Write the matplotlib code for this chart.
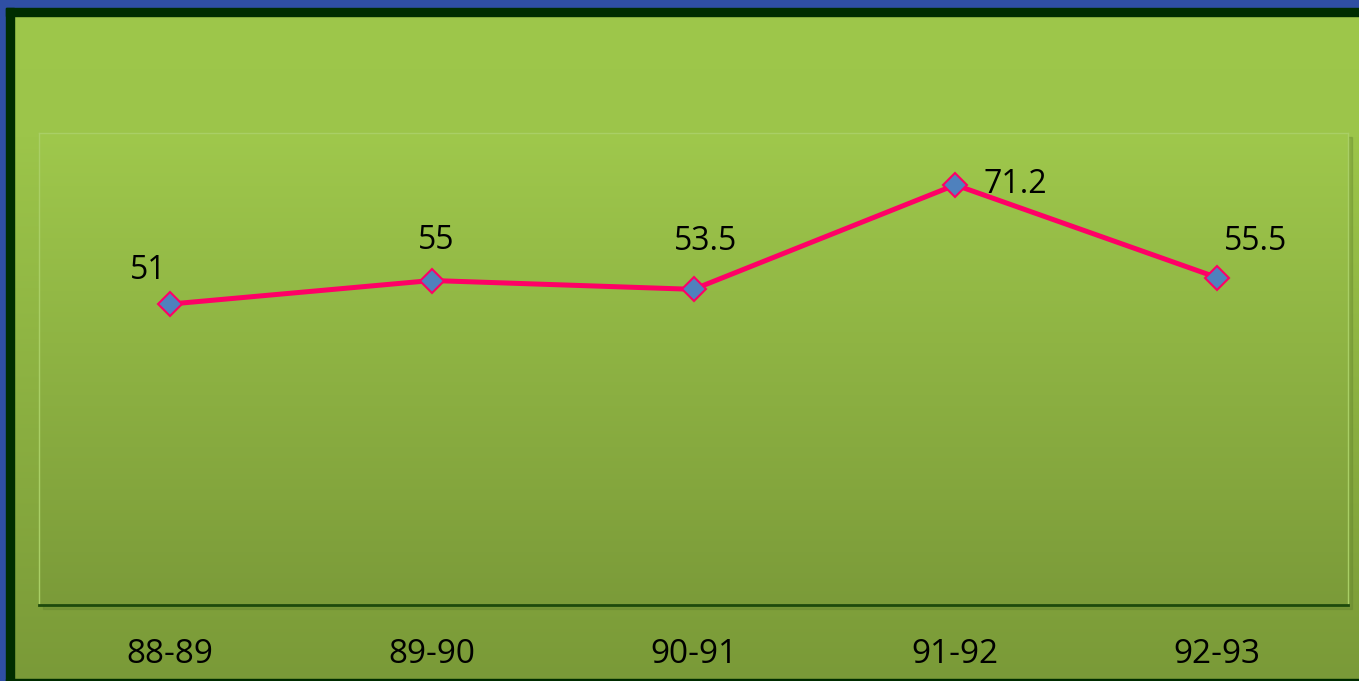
import numpy as np
import matplotlib.pyplot as plt
import matplotlib.colors as mcolors
from matplotlib.patches import Rectangle

# data
periods = ["88-89", "89-90", "90-91", "91-92", "92-93"]
values = [51, 55, 53.5, 71.2, 55.5]
# label offsets in pixels (dx, dy)
label_offsets = [(-22, 34), (4, 40), (12, 48), (60, 0), (38, 36)]

W, H = 1359, 681
fig = plt.figure(figsize=(W / 100, H / 100), dpi=100)
plt.rcParams['font.family'] = ['Open Sans', 'DejaVu Sans']

# gradient background over whole figure
bg = fig.add_axes([0, 0, 1, 1], zorder=0)
grad = mcolors.LinearSegmentedColormap.from_list(
    "g", [(0, "#9ec74b"), (0.2, "#9cc54a"), (1, "#7a9a38")])
bg.imshow(np.linspace(0, 1, 256).reshape(-1, 1), cmap=grad, aspect="auto",
          extent=[0, W, H, 0])
bg.set_xlim(0, W)
bg.set_ylim(H, 0)
bg.axis("off")

# frames: blue outer band and dark green inner band
blue = "#2f4fa3"
dark = "#002d00"
bg.add_patch(Rectangle((0, 0), W, 8, color=blue, zorder=2))
bg.add_patch(Rectangle((0, 0), 6, H, color=blue, zorder=2))
bg.add_patch(Rectangle((6, 8), W, 8, color=dark, zorder=3))
bg.add_patch(Rectangle((6, 8), 8, H, color=dark, zorder=3))
bg.add_patch(Rectangle((6, H - 2), W, 2, color=dark, zorder=3))

# plot area shadow
bg.add_patch(Rectangle((43, 137), 1309, 472, color="#5f7d2a", alpha=0.3, zorder=1))

left, right, top, bottom = 39, 1348, 133, 605
ax = fig.add_axes([left / W, (H - bottom) / H, (right - left) / W, (bottom - top) / H],
                  zorder=1)
ax.set_xlim(-0.5, len(periods) - 0.5)
ax.set_ylim(0, 80)
grad2 = mcolors.LinearSegmentedColormap.from_list("g2", ["#9fc84c", "#7b9b39"])
ax.imshow(np.linspace(0, 1, 256).reshape(-1, 1), cmap=grad2, aspect="auto",
          extent=[-0.5, len(periods) - 0.5, 0, 80], zorder=0)

x = np.arange(len(periods))
ax.plot(x, values, color="#ff0066", lw=3.6, marker="D", markersize=12,
        markerfacecolor="#4f81bd", markeredgecolor="#ff0066", markeredgewidth=1.5,
        zorder=3)

for xi, v, (dx, dy) in zip(x, values, label_offsets):
    ax.annotate(f"{v:g}", (xi, v), xytext=(dx * 0.72, dy * 0.72),
                textcoords="offset points", ha="center", va="center",
                fontsize=23, color="black", zorder=4)

ax.set_xticks(x)
ax.set_xticklabels(periods, fontsize=24)
ax.tick_params(axis="x", length=0, pad=24)
ax.set_yticks([])
for s in ["top", "left", "right"]:
    ax.spines[s].set_color("#a9cf66")
    ax.spines[s].set_linewidth(1)
ax.spines["bottom"].set_color("#1d4a0b")
ax.spines["bottom"].set_linewidth(2)

fig.savefig("out.png", dpi=100)
